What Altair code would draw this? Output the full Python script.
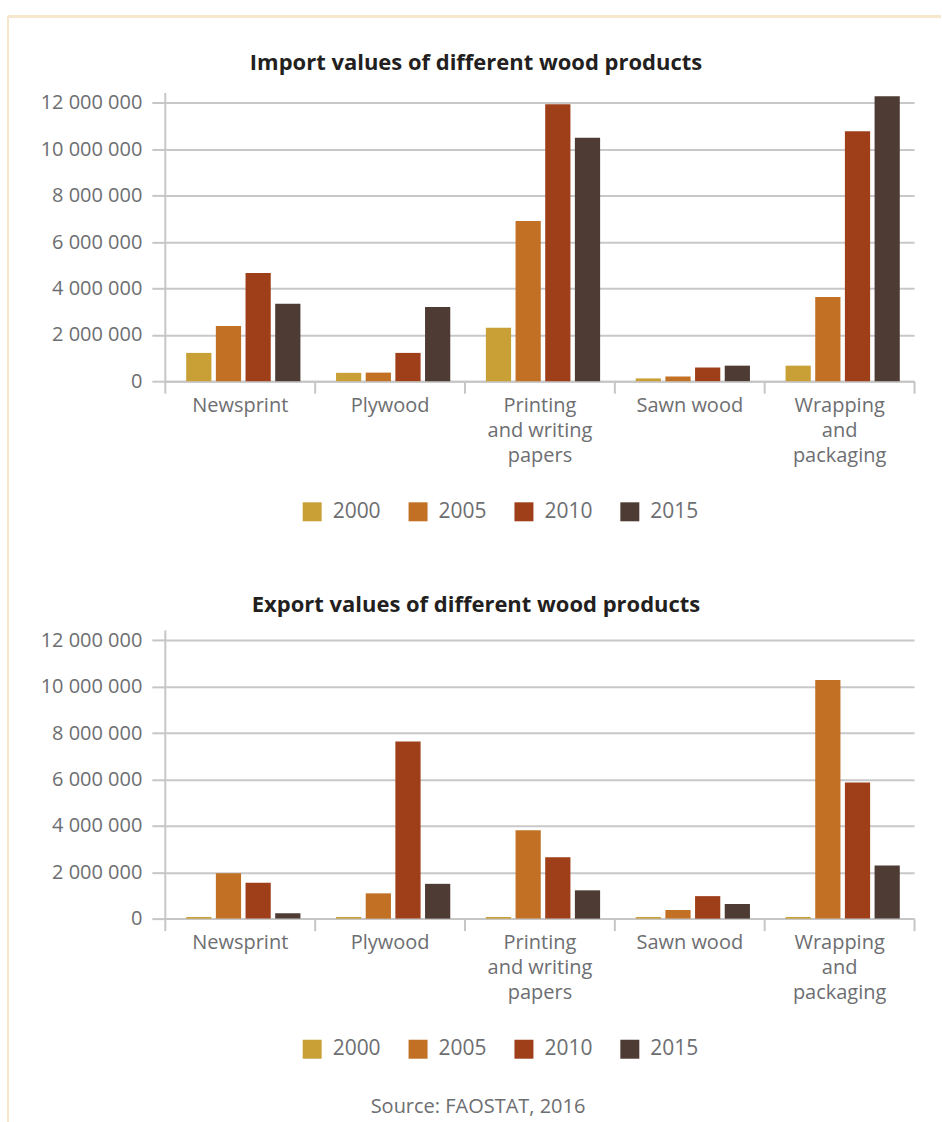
import altair as alt
import pandas as pd

categories = ["Newsprint", "Plywood", "Printing|and writing|papers", "Sawn wood", "Wrapping|and|packaging"]
years = ["2000", "2005", "2010", "2015"]

import_2000 = [1220000, 360000, 2310000, 120000, 670000]
import_2005 = [2380000, 370000, 6910000, 200000, 3630000]
import_2010 = [4670000, 1220000, 11940000, 590000, 10780000]
import_2015 = [3340000, 3200000, 10500000, 670000, 12290000]

export_2000 = [70000, 70000, 70000, 70000, 70000]
export_2005 = [1960000, 1090000, 3810000, 370000, 10290000]
export_2010 = [1550000, 7640000, 2650000, 970000, 5870000]
export_2015 = [230000, 1500000, 1220000, 630000, 2290000]

y_ticks = [0, 2000000, 4000000, 6000000, 8000000, 10000000, 12000000]
colors = ["#c8a036", "#c27024", "#9e3f1a", "#4e3c34"]

FONT = "Open Sans"
GRAY = "#c6c6c6"
TXT = "#6d6e71"


def long_frame(series):
    rows = []
    for year, vals in zip(years, series):
        for cat, v in zip(categories, vals):
            rows.append({"category": cat, "year": year, "value": v})
    return pd.DataFrame(rows)


imports = long_frame([import_2000, import_2005, import_2010, import_2015])
exports = long_frame([export_2000, export_2005, export_2010, export_2015])


def bar_chart(df, title, title_y, source=None):
    x_axis = dict(
        labelAngle=0, labelFont=FONT, labelFontSize=20, labelColor=TXT,
        labelExpr="split(datum.label, '|')", labelLineHeight=25, labelPadding=2,
        domainColor=GRAY, domainWidth=2, tickColor=GRAY, tickWidth=2,
        tickSize=12, tickBand="extent", grid=False,
    )
    if source:
        x_axis.update(dict(titleFont=FONT, titleFontSize=20, titleFontWeight="normal",
                           titleColor=TXT, titleX=313, titleY=188, titleBaseline="middle",
                           titleAlign="center"))
    bars = alt.Chart(df).mark_bar().encode(
        x=alt.X("category:N", sort=categories, title=source if source else None,
                scale=alt.Scale(paddingInner=0, paddingOuter=0),
                axis=alt.Axis(**x_axis)),
        xOffset=alt.XOffset("year:N", sort=years,
                            scale=alt.Scale(paddingInner=0.15, paddingOuter=0.6, align=0.6)),
        y=alt.Y("value:Q", title=title,
                scale=alt.Scale(domain=[0, 12450000], nice=False, zero=True),
                axis=alt.Axis(values=y_ticks,
                              labelExpr="replace(format(datum.value, ','), regexp(',', 'g'), ' ')",
                              labelFont=FONT, labelFontSize=20, labelColor=TXT,
                              labelPadding=10, domainColor=GRAY, domainWidth=2,
                              tickColor=GRAY, tickWidth=2, tickSize=13,
                              grid=True, gridColor="#c8c8c8", gridWidth=2,
                              titleFont=FONT, titleFontSize=22, titleFontWeight="bold",
                              titleColor="#231f20", titleAngle=0, titleAlign="center",
                              titleBaseline="middle", titleX=311, titleY=title_y)),
        color=alt.Color("year:N", sort=years,
                        scale=alt.Scale(domain=years, range=colors),
                        legend=alt.Legend(orient="none", legendX=137, legendY=409,
                                          direction="horizontal", title=None,
                                          symbolType="square", symbolSize=361,
                                          symbolStrokeWidth=0, symbolOpacity=1,
                                          labelFont=FONT, labelFontSize=21,
                                          labelColor=TXT, labelOffset=10,
                                          columnPadding=26, padding=0)),
    )
    return bars


top_bars = bar_chart(imports, "Import values of different wood products", -30)
border_v = alt.Chart(imports).mark_rule(color="#f6e8cc", strokeWidth=2).encode(
    x=alt.value(-157), y=alt.value(-76), y2=alt.value(1030))
border_h = alt.Chart(imports).mark_rule(color="#f6e8cc", strokeWidth=2).encode(
    x=alt.value(-157), x2=alt.value(777), y=alt.value(-76))

top = alt.layer(top_bars, border_v, border_h).properties(width=750, height=289)

bottom = bar_chart(exports, "Export values of different wood products", -25,
                   source="Source: FAOSTAT, 2016").properties(width=750, height=289)

chart = alt.vconcat(top, bottom, spacing=249, bounds="flush").resolve_legend(
    color="independent"
).resolve_scale(color="independent").properties(
    padding={"left": 7, "top": 15, "right": 0, "bottom": 0},
    background="white",
).configure_view(stroke=None)

chart.save("out.html", embed_options={"renderer": "svg", "actions": False})
